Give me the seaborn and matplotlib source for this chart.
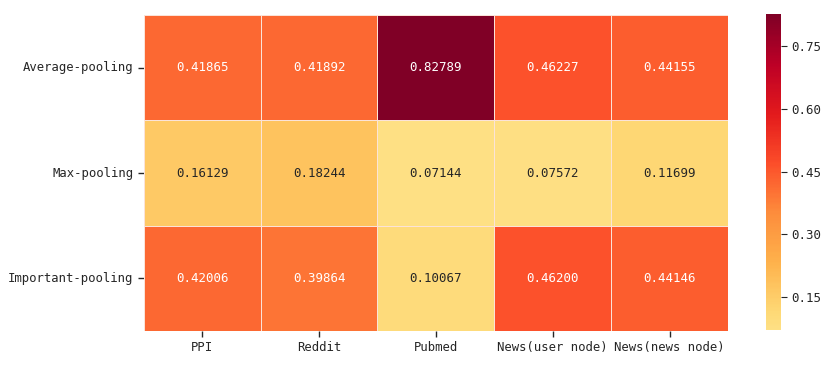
import seaborn as sns
import matplotlib.pyplot as plt
import pandas as pd

# linhas = estratégias de pooling, colunas = datasets
metodos = ['Average-pooling', 'Max-pooling', 'Important-pooling']
datasets = ['PPI', 'Reddit', 'Pubmed', 'News(user node)', 'News(news node)']

average = [0.41865, 0.41892, 0.82789, 0.46227, 0.44155]
maximo = [0.16129, 0.18244, 0.07144, 0.07572, 0.11699]
important = [0.42006, 0.39864, 0.10067, 0.46200, 0.44146]

df = pd.DataFrame([average, maximo, important], index=metodos, columns=datasets)

sns.set_style('white')
plt.rcParams['font.family'] = ['DejaVu Sans Mono', 'DejaVu Sans']

fig = plt.figure(figsize=(8.31, 3.65), dpi=100)
ax = fig.add_axes([0.173, 0.093, 0.703, 0.866])
cax = fig.add_axes([0.922, 0.096, 0.018, 0.866])

# center deslocado para o mapa de cores começar no amarelo e não no branco
sns.heatmap(df, ax=ax, cbar_ax=cax, cmap='YlOrRd', center=0.35,
            annot=True, fmt='.5f', linewidths=0.4, linecolor='#fbe3d8',
            annot_kws={'fontsize': 9})

ax.tick_params(axis='both', length=4, width=1, labelsize=8.8, left=True, bottom=True)
ax.set_yticklabels(metodos, rotation=0)
ax.set_xticklabels(datasets, rotation=0)
cbar = ax.collections[0].colorbar
cbar.set_ticks([0.15, 0.30, 0.45, 0.60, 0.75])
cbar.outline.set_visible(False)
cax.tick_params(labelsize=9, length=4)

fig.savefig('out.png', dpi=100)
